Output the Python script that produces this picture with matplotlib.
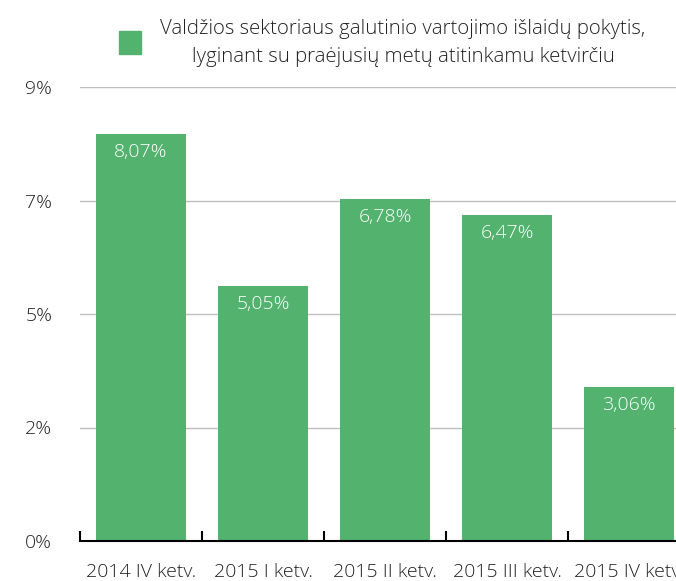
import matplotlib.pyplot as plt
from matplotlib.patches import Rectangle

# === DATA ===
quarters = ['2014 IV ketv.', '2015 I ketv.', '2015 II ketv.', '2015 III ketv.', '2015 IV ketv.']
change_pct = [8.07, 5.05, 6.78, 6.47, 3.06]
y_ticks = [0, 2.25, 4.5, 6.75, 9]
y_tick_labels = ['0%', '2%', '5%', '7%', '9%']
legend_label = ('Valdžios sektoriaus galutinio vartojimo išlaidų pokytis,\n'
                'lyginant su praėjusių metų atitinkamu ketvirčiu')

# === STYLE ===
plt.rcParams['font.family'] = ['Open Sans', 'DejaVu Sans']
plt.rcParams['font.weight'] = 'light'
bar_color = '#52b26e'
text_color = '#222222'
fs = 14

fig = plt.figure(figsize=(6.76, 5.81), dpi=100)
# axes deliberately run past the right edge (the original is cropped)
ax = fig.add_axes([80 / 676, 40 / 581, 610 / 676, 454 / 581])

x = list(range(len(quarters)))
bars = ax.bar(x, change_pct, width=0.73, color=bar_color, zorder=2)

for xi, v in zip(x, change_pct):
    ax.annotate(f'{v:.2f}%'.replace('.', ','), (xi, v), xytext=(0, -13),
                textcoords='offset points', ha='center', va='center',
                color='white', fontsize=fs)

ax.set_xlim(-0.5, 4.5)
ax.set_ylim(0, 9)

# gridlines
for t in y_ticks[1:]:
    ax.axhline(t, color='#bfbfbf', linewidth=1, zorder=1)

ax.set_yticks(y_ticks)
ax.set_yticklabels(y_tick_labels, fontsize=fs, color=text_color)
ax.tick_params(axis='y', length=0, pad=20)

ax.set_xticks(x)
ax.set_xticklabels(quarters, fontsize=fs, color=text_color)
ax.set_xticks([i - 0.5 for i in range(len(quarters) + 1)], minor=True)
ax.tick_params(axis='x', which='major', length=0, pad=16)
ax.tick_params(axis='x', which='minor', direction='in', length=7, width=1.5, color='black')

for side in ['top', 'right', 'left']:
    ax.spines[side].set_visible(False)
ax.spines['bottom'].set_linewidth(1.5)
ax.spines['bottom'].set_color('black')
ax.spines['bottom'].set_zorder(3)

# legend drawn by hand: square + centred two-line text
fig.patches.append(Rectangle((119 / 676, 1 - 54 / 581), 22 / 676, 23 / 581,
                             transform=fig.transFigure, color=bar_color))
fig.text(403 / 676, 1 - 43 / 581, legend_label, ha='center', va='center',
         multialignment='center', fontsize=14.7, color=text_color, linespacing=1.55)

plt.savefig('out.png', dpi=100)
